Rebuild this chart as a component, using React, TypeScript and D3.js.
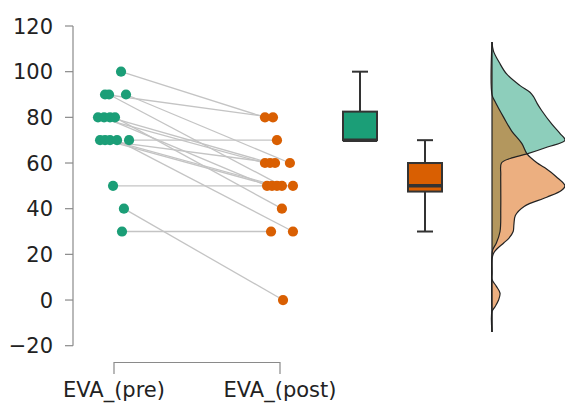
import React from "react";
import * as d3 from "d3";

const categories = ["EVA_(pre)", "EVA_(post)"];
const yTicks = [-20, 0, 20, 40, 60, 80, 100, 120];

// paired observations (one entry per subject)
const preValues = [100, 90, 90, 90, 80, 80, 80, 80, 70, 70, 70, 70, 70, 50, 40, 30];
const postValues = [80, 80, 50, 60, 60, 50, 60, 40, 60, 50, 50, 30, 70, 50, 0, 30];
// horizontal jitter, as a fraction of half the jitter band
const preJitter = [0.44, -0.56, -0.31, 0.75, -1.0, -0.62, -0.25, 0.06, -0.87, -0.56, -0.25, 0.19, 0.94, -0.06, 0.62, 0.5];
const postJitter = [-0.94, -0.44, 0.12, 0.62, -0.94, -0.81, -0.62, 0.12, -0.31, -0.5, -0.19, 0.81, -0.19, 0.81, 0.19, -0.56];

// box plot summaries
const boxLow = [70, 30];
const boxQ1 = [70, 47.5];
const boxMedian = [70, 50];
const boxQ3 = [82.5, 60];
const boxHigh = [100, 70];

// density profiles (value, relative width)
const densityPreV = [113, 109, 104, 99, 94, 91, 89, 86, 83, 77, 73, 70, 67, 64, 62, 60, 55, 50, 40, 30, 25, 22, 20, -14];
const densityPreW = [0, 0.02, 0.1, 0.2, 0.38, 0.52, 0.57, 0.62, 0.68, 0.82, 0.93, 1.0, 0.76, 0.48, 0.25, 0.13, 0.12, 0.12, 0.12, 0.11, 0.06, 0.01, 0, 0];
const densityPostV = [113, 90, 87, 84, 80, 74, 68.5, 64, 60, 58, 54, 50, 48, 45, 41, 37, 33, 30, 27, 25, 21, 18, 12, 9, 6, 3, 0, -3, -5, -14];
const densityPostW = [0, 0, 0.04, 0.09, 0.16, 0.27, 0.41, 0.48, 0.62, 0.72, 0.88, 1.0, 0.95, 0.75, 0.44, 0.32, 0.3, 0.29, 0.23, 0.16, 0.03, 0, 0, 0, 0.06, 0.11, 0.09, 0.04, 0, 0];

const colors = ["#1b9e77", "#d95f02"];
const fills = ["rgba(27,158,119,0.5)", "rgba(217,95,2,0.5)"];

export default function App() {
  const W = 565, H = 405;
  const y = d3.scaleLinear().domain([-20, 120]).range([345.7, 26]);
  const xCat = d3.scalePoint<string>().domain(categories).range([114, 280]);
  const jitterHalf = 16;
  const boxX = d3.scalePoint<string>().domain(categories).range([360, 425]);
  const boxW = 34;
  const capW = 16;
  const dBase = 492;
  const dW = d3.scaleLinear().domain([0, 1]).range([0, 73]);
  const font = "'DejaVu Sans', Verdana, sans-serif";

  const preX = preValues.map((_, i) => (xCat(categories[0]) as number) + preJitter[i] * jitterHalf);
  const postX = postValues.map((_, i) => (xCat(categories[1]) as number) + postJitter[i] * jitterHalf);

  const densities = [
    densityPreV.map((v, i) => ({ v, w: densityPreW[i] })),
    densityPostV.map((v, i) => ({ v, w: densityPostW[i] })),
  ];
  const area = d3
    .area<{ v: number; w: number }>()
    .y((d) => y(d.v))
    .x0(dBase)
    .x1((d) => dBase + dW(d.w))
    .curve(d3.curveCatmullRom.alpha(0.5));
  const line = d3
    .line<{ v: number; w: number }>()
    .y((d) => y(d.v))
    .x((d) => dBase + dW(d.w))
    .curve(d3.curveCatmullRom.alpha(0.5));

  return (
    <svg width={W} height={H} style={{ position: "absolute", left: 0, top: 0, background: "#fff" }}>
      {/* y axis */}
      <line x1={73} x2={73} y1={y(120)} y2={y(-20)} stroke="#8a8a8a" strokeWidth={1.2} />
      {yTicks.map((t) => (
        <g key={t}>
          <line x1={65} x2={73} y1={y(t)} y2={y(t)} stroke="#8a8a8a" strokeWidth={1.2} />
          <text x={53} y={y(t)} dy="0.36em" textAnchor="end" fontFamily={font} fontSize={21} fill="#222">
            {t < 0 ? "\u2212" + Math.abs(t) : t}
          </text>
        </g>
      ))}
      {/* x axis bracket */}
      <path
        d={`M${xCat(categories[0])},374V362.5H${xCat(categories[1])}V374`}
        fill="none"
        stroke="#8a8a8a"
        strokeWidth={1.2}
      />
      {categories.map((c) => (
        <text key={c} x={xCat(c)} y={397} textAnchor="middle" fontFamily={font} fontSize={21} fill="#222">
          {c}
        </text>
      ))}
      {/* paired lines */}
      {preValues.map((v, i) => (
        <line key={i} x1={preX[i]} y1={y(v)} x2={postX[i]} y2={y(postValues[i])} stroke="#c4c4c4" strokeWidth={1.3} />
      ))}
      {/* points */}
      {preValues.map((v, i) => (
        <circle key={"a" + i} cx={preX[i]} cy={y(v)} r={5.1} fill={colors[0]} />
      ))}
      {postValues.map((v, i) => (
        <circle key={"b" + i} cx={postX[i]} cy={y(v)} r={5.1} fill={colors[1]} />
      ))}
      {/* box plots */}
      {categories.map((c, i) => {
        const cx = boxX(c) as number;
        return (
          <g key={c}>
            <line x1={cx} x2={cx} y1={y(boxHigh[i])} y2={y(boxQ3[i])} stroke="#333" strokeWidth={2} />
            <line x1={cx} x2={cx} y1={y(boxQ1[i])} y2={y(boxLow[i])} stroke="#333" strokeWidth={2} />
            <line x1={cx - capW / 2} x2={cx + capW / 2} y1={y(boxHigh[i])} y2={y(boxHigh[i])} stroke="#333" strokeWidth={2} />
            <line x1={cx - capW / 2} x2={cx + capW / 2} y1={y(boxLow[i])} y2={y(boxLow[i])} stroke="#333" strokeWidth={2} />
            <rect
              x={cx - boxW / 2}
              y={y(boxQ3[i])}
              width={boxW}
              height={y(boxQ1[i]) - y(boxQ3[i])}
              fill={colors[i]}
              stroke="#333"
              strokeWidth={2}
            />
            <line x1={cx - boxW / 2} x2={cx + boxW / 2} y1={y(boxMedian[i])} y2={y(boxMedian[i])} stroke="#333" strokeWidth={3.5} />
          </g>
        );
      })}
      {/* densities */}
      {densities.map((d, i) => (
        <path key={"d" + i} d={area(d) || ""} fill={fills[i]} stroke="none" />
      ))}
      {densities.map((d, i) => (
        <path key={"l" + i} d={line(d) || ""} fill="none" stroke="#222" strokeWidth={1.2} />
      ))}
      <line x1={dBase} x2={dBase} y1={y(113)} y2={y(-14)} stroke="#222" strokeWidth={1.2} />
    </svg>
  );
}
